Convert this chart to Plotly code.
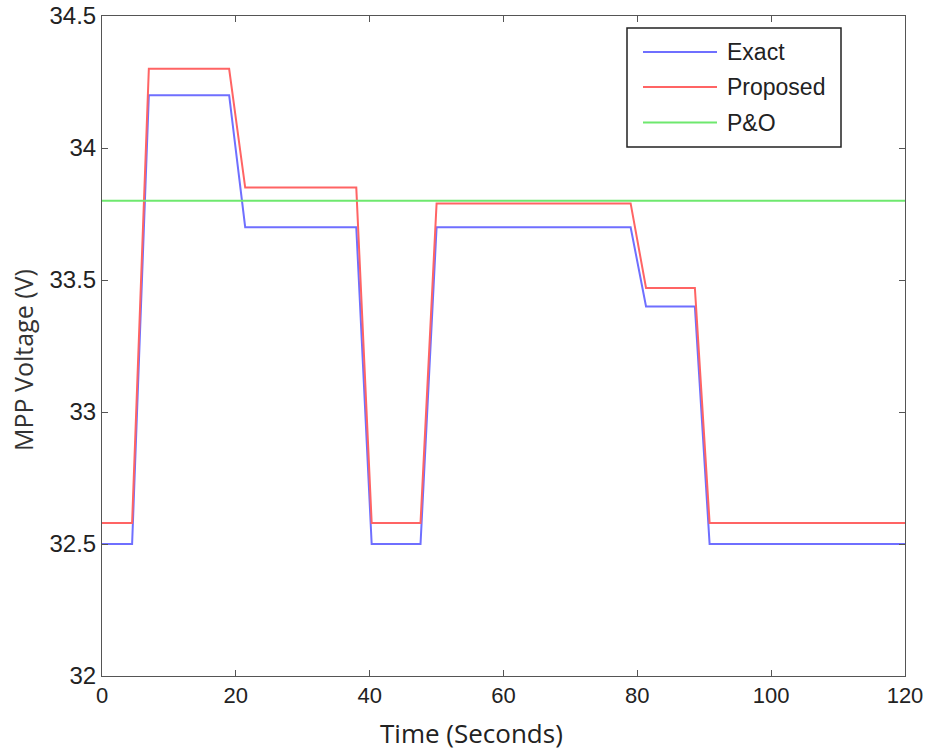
import plotly.graph_objects as go

# Time breakpoints (s) and MPP voltage levels (V)
t_points = [0, 4.5, 7, 19, 21.4, 38, 40.3, 47.6, 50, 79, 81.3, 88.6, 90.8, 120]
v_exact = [32.5, 32.5, 34.2, 34.2, 33.7, 33.7, 32.5, 32.5, 33.7, 33.7, 33.4, 33.4, 32.5, 32.5]
v_proposed = [32.58, 32.58, 34.3, 34.3, 33.85, 33.85, 32.58, 32.58, 33.79, 33.79, 33.47, 33.47, 32.58, 32.58]
t_po = [0, 120]
v_po = [33.8, 33.8]

series_names = ["Exact", "Proposed", "P&O"]
series_colors = ["#6f6fff", "#ff6464", "#6ee86e"]

x_ticks = [0, 20, 40, 60, 80, 100, 120]
y_ticks = [32, 32.5, 33, 33.5, 34, 34.5]
y_tick_text = ["32", "32.5", "33", "33.5", "34", "34.5"]

x_title = "Time (Seconds)"
y_title = "MPP Voltage (V)"

fig = go.Figure()
for t, v, name, color in zip([t_points, t_points, t_po],
                             [v_exact, v_proposed, v_po],
                             series_names, series_colors):
    fig.add_trace(go.Scatter(x=t, y=v, mode="lines", name=name,
                             line=dict(color=color, width=2),
                             showlegend=False))

axis_common = dict(showline=True, linecolor="#555555", linewidth=1,
                   mirror="ticks", ticks="inside", ticklen=6,
                   tickcolor="#555555", showgrid=False, zeroline=False,
                   automargin=False)

fig.update_xaxes(range=[0, 120], tickvals=x_ticks,
                 tickfont=dict(family="Liberation Sans", size=22, color="#222222"),
                 **axis_common)
fig.update_yaxes(range=[32, 34.5], tickvals=y_ticks, ticktext=y_tick_text,
                 tickfont=dict(family="Liberation Sans", size=24, color="#222222"),
                 **axis_common)

# Pixel-to-paper helpers for the plot frame
px_l, px_r, px_t, px_b = 102, 905, 16, 676
def xp(p):
    return (p - px_l) / (px_r - px_l)
def yp(p):
    return (px_b - p) / (px_b - px_t)

# Axis titles
fig.add_annotation(xref="paper", yref="paper", x=xp(471), y=yp(733), text=x_title,
                   showarrow=False, xanchor="center", yanchor="middle",
                   font=dict(family="Open Sans", size=26, color="#222222"))
fig.add_annotation(xref="paper", yref="paper", x=xp(23), y=yp(360), text=y_title,
                   showarrow=False, xanchor="center", yanchor="middle", textangle=-90,
                   font=dict(family="Open Sans", size=25, color="#333333"))

# Legend box
fig.add_shape(type="rect", xref="paper", yref="paper",
              x0=xp(627), x1=xp(841), y0=yp(147), y1=yp(28),
              line=dict(color="#222222", width=1.5), fillcolor="white", layer="above")
entry_y = [52, 87, 122.5]
for name, color, yy in zip(series_names, series_colors, entry_y):
    fig.add_shape(type="line", xref="paper", yref="paper",
                  x0=xp(643), x1=xp(717), y0=yp(yy), y1=yp(yy),
                  line=dict(color=color, width=2), layer="above")
    fig.add_annotation(xref="paper", yref="paper", x=xp(725), y=yp(yy), text=name,
                       showarrow=False, xanchor="left", yanchor="middle",
                       font=dict(family="Liberation Sans", size=23, color="#222222"))

fig.update_layout(width=930, height=750,
                  margin=dict(l=px_l, r=930 - px_r, t=px_t, b=750 - px_b),
                  plot_bgcolor="white", paper_bgcolor="white")

fig.write_html("out.html")
